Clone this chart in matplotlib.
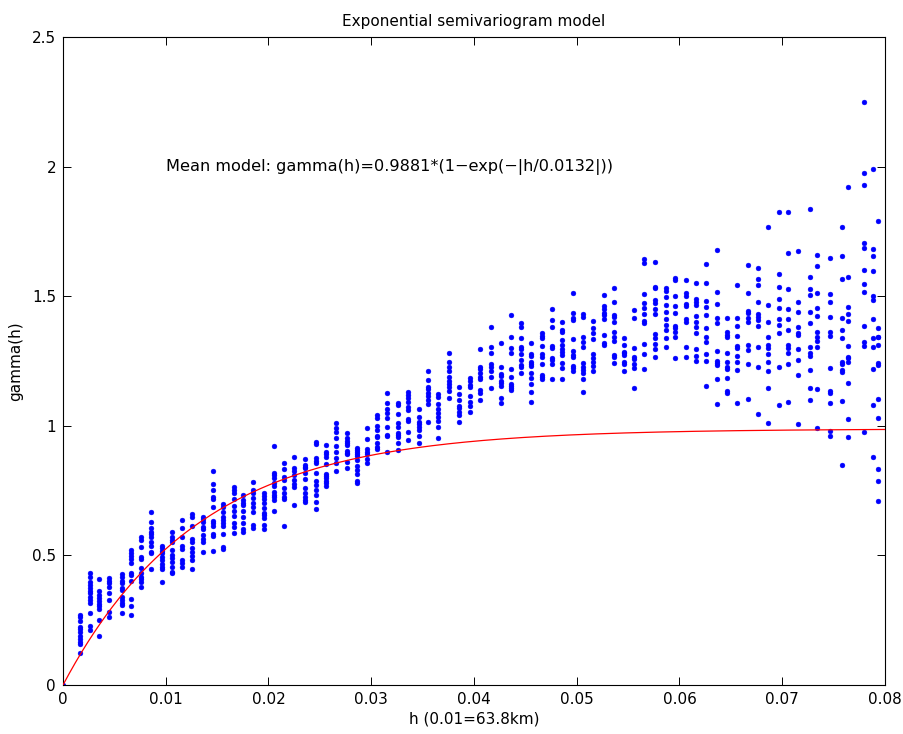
import numpy as np
import matplotlib
matplotlib.use("Agg")
import matplotlib.pyplot as plt

plt.rcParams['font.family'] = ['DejaVu Sans']

# Lag distances (h) of each column of experimental semivariogram values
lag_h = [0.00165, 0.00263, 0.00353, 0.00450, 0.00571, 0.00662, 0.00759, 0.00859, 0.00961, 0.01058,
         0.01155, 0.01258, 0.01360, 0.01463, 0.01560, 0.01664, 0.01755, 0.01852, 0.01956, 0.02056,
         0.02154, 0.02251, 0.02355, 0.02459, 0.02557, 0.02657, 0.02761, 0.02858, 0.02959, 0.03056,
         0.03156, 0.03257, 0.03361, 0.03465, 0.03555, 0.03653, 0.03757, 0.03857, 0.03961, 0.04058,
         0.04163, 0.04260, 0.04357, 0.04460, 0.04555, 0.04665, 0.04759, 0.04859, 0.04961, 0.05064,
         0.05161, 0.05262, 0.05363, 0.05460, 0.05560, 0.05657, 0.05762, 0.05866, 0.05956, 0.06060,
         0.06158, 0.06255, 0.06362, 0.06459, 0.06563, 0.06667, 0.06767, 0.06864, 0.06968, 0.07053,
         0.07156, 0.07270, 0.07341, 0.07464, 0.07579, 0.07640, 0.07798, 0.07886, 0.07935]

# Semivariogram values in each column (one list per lag)
gamma_cols = [
    [0.270, 0.261, 0.248, 0.225, 0.215, 0.206, 0.189, 0.176, 0.167, 0.158, 0.125],
    [0.431, 0.418, 0.399, 0.386, 0.373, 0.364, 0.354, 0.341, 0.328, 0.318, 0.279, 0.228, 0.212],
    [0.408, 0.364, 0.347, 0.334, 0.325, 0.313, 0.305, 0.292, 0.251, 0.189],
    [0.412, 0.401, 0.392, 0.377, 0.354, 0.328, 0.283, 0.264],
    [0.428, 0.418, 0.401, 0.392, 0.373, 0.367, 0.341, 0.328, 0.318, 0.309, 0.279],
    [0.521, 0.510, 0.498, 0.485, 0.469, 0.431, 0.424, 0.401, 0.331, 0.305, 0.269],
    [0.570, 0.559, 0.531, 0.495, 0.485, 0.450, 0.431, 0.418, 0.408, 0.399, 0.379],
    [0.669, 0.630, 0.605, 0.591, 0.583, 0.572, 0.553, 0.536, 0.514, 0.508, 0.448],
    [0.538, 0.527, 0.518, 0.508, 0.495, 0.482, 0.466, 0.456, 0.448, 0.396],
    [0.589, 0.572, 0.559, 0.553, 0.521, 0.502, 0.489, 0.476, 0.456, 0.437, 0.431],
    [0.637, 0.605, 0.572, 0.536, 0.523, 0.482, 0.469, 0.456],
    [0.658, 0.649, 0.613, 0.562, 0.553, 0.530, 0.514, 0.498, 0.482, 0.448],
    [0.649, 0.639, 0.630, 0.611, 0.601, 0.579, 0.562, 0.553, 0.514],
    [0.827, 0.775, 0.752, 0.727, 0.716, 0.686, 0.634, 0.626, 0.615, 0.583, 0.575, 0.517],
    [0.698, 0.688, 0.669, 0.647, 0.637, 0.626, 0.613, 0.583, 0.534, 0.523],
    [0.763, 0.752, 0.740, 0.716, 0.691, 0.672, 0.652, 0.626, 0.611, 0.585],
    [0.733, 0.714, 0.703, 0.694, 0.672, 0.647, 0.624, 0.601, 0.591],
    [0.784, 0.752, 0.740, 0.720, 0.703, 0.688, 0.669, 0.617, 0.605],
    [0.740, 0.729, 0.716, 0.701, 0.682, 0.665, 0.656, 0.643, 0.617, 0.601],
    [0.922, 0.819, 0.810, 0.797, 0.778, 0.768, 0.746, 0.733, 0.724, 0.714, 0.671],
    [0.858, 0.832, 0.804, 0.791, 0.759, 0.740, 0.727, 0.716, 0.615],
    [0.878, 0.836, 0.827, 0.810, 0.791, 0.775, 0.765, 0.694],
    [0.871, 0.849, 0.842, 0.836, 0.819, 0.794, 0.759, 0.742, 0.724, 0.714, 0.705],
    [0.936, 0.930, 0.875, 0.865, 0.855, 0.819, 0.787, 0.772, 0.752, 0.733, 0.707, 0.678],
    [0.926, 0.900, 0.891, 0.881, 0.853, 0.814, 0.806, 0.797, 0.788, 0.778, 0.768],
    [1.012, 0.990, 0.977, 0.952, 0.922, 0.900, 0.875, 0.858, 0.827],
    [0.971, 0.952, 0.943, 0.932, 0.926, 0.904, 0.896, 0.891, 0.862, 0.836],
    [0.913, 0.907, 0.900, 0.891, 0.883, 0.868, 0.845, 0.829, 0.814, 0.788, 0.780],
    [0.990, 0.948, 0.909, 0.900, 0.891, 0.871, 0.855],
    [1.042, 1.029, 0.999, 0.984, 0.961, 0.956, 0.932, 0.919, 0.909],
    [1.128, 1.089, 1.064, 1.048, 1.029, 0.994, 0.965, 0.961, 0.900],
    [1.087, 1.080, 1.046, 1.012, 0.997, 0.971, 0.965, 0.958, 0.932, 0.907],
    [1.132, 1.119, 1.106, 1.093, 1.074, 1.061, 1.025, 1.020, 0.977, 0.945],
    [1.064, 1.035, 1.016, 1.007, 0.997, 0.984, 0.961, 0.935],
    [1.213, 1.177, 1.151, 1.141, 1.128, 1.115, 1.100, 1.084, 1.016],
    [1.123, 1.112, 1.084, 1.064, 1.048, 1.035, 1.020, 0.997, 0.952],
    [1.282, 1.247, 1.226, 1.213, 1.187, 1.174, 1.161, 1.151, 1.135, 1.108],
    [1.151, 1.123, 1.100, 1.076, 1.067, 1.054, 1.042, 1.016],
    [1.183, 1.174, 1.157, 1.149, 1.115, 1.093, 1.076, 1.054],
    [1.295, 1.228, 1.218, 1.205, 1.189, 1.179, 1.138, 1.128, 1.100],
    [1.380, 1.305, 1.282, 1.238, 1.226, 1.213, 1.187, 1.145],
    [1.318, 1.226, 1.200, 1.192, 1.174, 1.164, 1.154, 1.106, 1.087],
    [1.427, 1.344, 1.299, 1.280, 1.219, 1.189, 1.161, 1.154, 1.145, 1.138],
    [1.398, 1.382, 1.338, 1.305, 1.295, 1.277, 1.254, 1.235, 1.226, 1.205],
    [1.321, 1.277, 1.270, 1.247, 1.238, 1.231, 1.205, 1.183, 1.161, 1.129, 1.091],
    [1.357, 1.346, 1.338, 1.308, 1.276, 1.267, 1.238, 1.196, 1.187, 1.179],
    [1.449, 1.408, 1.382, 1.308, 1.299, 1.260, 1.254, 1.238, 1.181],
    [1.399, 1.370, 1.363, 1.331, 1.312, 1.295, 1.284, 1.273, 1.243, 1.222, 1.179],
    [1.511, 1.434, 1.415, 1.408, 1.335, 1.289, 1.273, 1.264, 1.231, 1.222, 1.213],
    [1.431, 1.419, 1.344, 1.325, 1.303, 1.243, 1.228, 1.215, 1.205, 1.179, 1.132],
    [1.405, 1.376, 1.357, 1.334, 1.276, 1.260, 1.247, 1.232, 1.213],
    [1.504, 1.462, 1.449, 1.436, 1.427, 1.412, 1.350, 1.321, 1.312],
    [1.530, 1.479, 1.427, 1.421, 1.402, 1.363, 1.341, 1.328, 1.273, 1.264, 1.243],
    [1.338, 1.312, 1.286, 1.280, 1.273, 1.247, 1.238, 1.211],
    [1.447, 1.415, 1.299, 1.267, 1.257, 1.238, 1.222, 1.147],
    [1.642, 1.627, 1.507, 1.473, 1.453, 1.431, 1.405, 1.395, 1.316, 1.276, 1.219],
    [1.633, 1.537, 1.530, 1.485, 1.473, 1.449, 1.430, 1.353, 1.338, 1.316, 1.295, 1.264],
    [1.533, 1.521, 1.498, 1.466, 1.440, 1.411, 1.389, 1.370, 1.338, 1.305],
    [1.569, 1.562, 1.501, 1.462, 1.436, 1.385, 1.376, 1.363, 1.344, 1.260],
    [1.562, 1.514, 1.501, 1.470, 1.462, 1.411, 1.402, 1.305, 1.264],
    [1.552, 1.488, 1.479, 1.466, 1.424, 1.402, 1.380, 1.359, 1.295, 1.269, 1.251],
    [1.624, 1.550, 1.481, 1.459, 1.427, 1.376, 1.341, 1.322, 1.277, 1.251, 1.154],
    [1.678, 1.517, 1.469, 1.415, 1.395, 1.290, 1.251, 1.243, 1.235, 1.179, 1.084],
    [1.415, 1.363, 1.350, 1.341, 1.282, 1.247, 1.228, 1.218, 1.183, 1.134, 1.125],
    [1.543, 1.415, 1.385, 1.348, 1.308, 1.299, 1.269, 1.247, 1.215, 1.087],
    [1.622, 1.514, 1.444, 1.436, 1.415, 1.402, 1.312, 1.292, 1.238, 1.102],
    [1.610, 1.566, 1.543, 1.479, 1.431, 1.421, 1.408, 1.386, 1.305, 1.228, 1.046],
    [1.768, 1.466, 1.402, 1.341, 1.312, 1.299, 1.277, 1.247, 1.213, 1.147, 1.010],
    [1.824, 1.586, 1.534, 1.490, 1.453, 1.411, 1.389, 1.359, 1.226, 1.080],
    [1.826, 1.666, 1.528, 1.451, 1.411, 1.370, 1.312, 1.299, 1.282, 1.238, 1.093],
    [1.676, 1.479, 1.440, 1.380, 1.359, 1.350, 1.296, 1.254, 1.196, 1.006],
    [1.835, 1.575, 1.528, 1.505, 1.440, 1.395, 1.305, 1.280, 1.269, 1.215, 1.147, 1.100],
    [1.660, 1.617, 1.514, 1.456, 1.424, 1.363, 1.344, 1.328, 1.305, 1.141, 0.993],
    [1.646, 1.508, 1.478, 1.419, 1.363, 1.348, 1.224, 1.134, 1.125, 1.087, 0.980, 0.961],
    [1.766, 1.655, 1.565, 1.415, 1.370, 1.340, 1.245, 1.238, 1.215, 1.209, 1.097, 0.849],
    [1.922, 1.575, 1.457, 1.431, 1.405, 1.308, 1.267, 1.260, 1.247, 1.164, 1.026, 0.958],
    [2.250, 1.976, 1.929, 1.704, 1.687, 1.601, 1.547, 1.515, 1.386, 1.322, 1.309, 0.975],
    [1.990, 1.683, 1.654, 1.597, 1.502, 1.485, 1.413, 1.340, 1.305, 1.218, 1.080, 0.878],
    [1.791, 1.376, 1.344, 1.341, 1.312, 1.243, 1.235, 1.103, 1.029, 0.832, 0.787, 0.710],
]

# Model parameters
sill = 0.9881
range_a = 0.0132

x_ticks = [0, 0.01, 0.02, 0.03, 0.04, 0.05, 0.06, 0.07, 0.08]
x_tick_labels = ["0", "0.01", "0.02", "0.03", "0.04", "0.05", "0.06", "0.07", "0.08"]
y_ticks = [0, 0.5, 1, 1.5, 2, 2.5]
y_tick_labels = ["0", "0.5", "1", "1.5", "2", "2.5"]

fs = 11

fig = plt.figure(figsize=(9.04, 7.34), dpi=100)
ax = fig.add_axes([63/904, 1 - 685/734, (885-63)/904, (685-37)/734])

hx = []
gy = []
for h, col in zip(lag_h, gamma_cols):
    hx.extend([h] * len(col))
    gy.extend(col)
hx = [0.0] + hx
gy = [0.0] + gy

ax.plot(hx, gy, linestyle='none', marker='o', markersize=3.5,
        markerfacecolor=(0, 0, 1), markeredgecolor=(0, 0, 1), markeredgewidth=0.3, zorder=2)

hh = np.linspace(0, 0.08, 400)
ax.plot(hh, sill * (1 - np.exp(-np.abs(hh / range_a))), color=(1, 0, 0), linewidth=0.9, zorder=3)

ax.set_xlim(0, 0.08)
ax.set_ylim(0, 2.5)
ax.set_xticks(x_ticks)
ax.set_xticklabels(x_tick_labels)
ax.set_yticks(y_ticks)
ax.set_yticklabels(y_tick_labels)
ax.tick_params(direction='in', top=True, right=True, labelsize=fs, length=6, width=0.7, pad=5)
for s in ax.spines.values():
    s.set_linewidth(0.8)

ax.set_title("Exponential semivariogram model", fontsize=fs, pad=8)
ax.set_xlabel("h (0.01=63.8km)", fontsize=fs, labelpad=3)
ax.set_ylabel("gamma(h)", fontsize=fs, labelpad=6)
ax.text(0.01, 2.0, "Mean model: gamma(h)=0.9881*(1\u2212exp(\u2212|h/0.0132|))",
        fontsize=11.6, ha='left', va='center')

fig.savefig("out.png", dpi=100)
